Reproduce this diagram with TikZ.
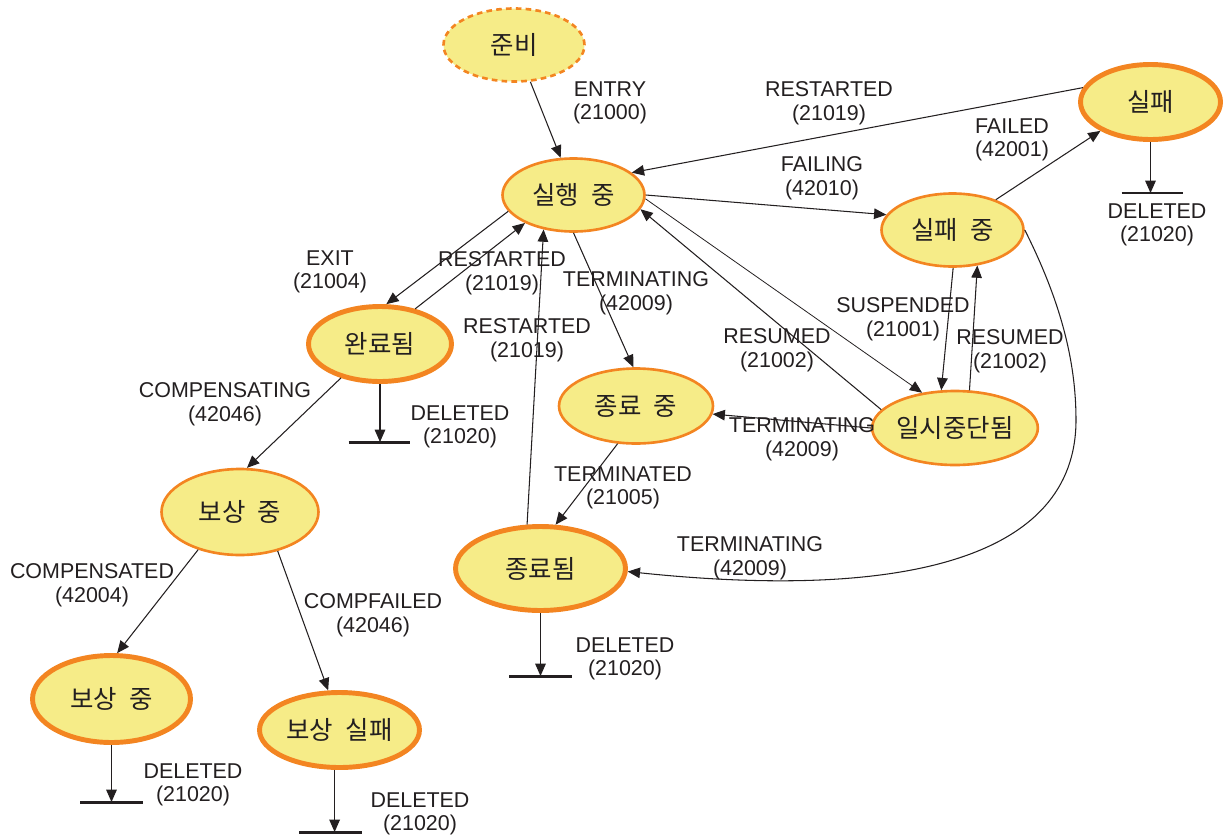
\documentclass[tikz,border=0pt]{standalone}
\usepackage{fontspec}
\setmainfont{Liberation Sans}
\newfontfamily\kr[WordSpace=2.2]{Noto Sans CJK KR}
\usetikzlibrary{shapes.geometric,arrows.meta}
\definecolor{yfill}{RGB}{246,236,136}
\definecolor{orng}{RGB}{243,133,33}
\definecolor{ink}{RGB}{35,31,32}
\tikzset{
 st/.style={ellipse, fill=yfill, draw=orng, inner sep=0pt, text=ink, font=\kr\fontsize{14.5}{16}\selectfont},
 thinb/.style={st, line width=1.5pt},
 thickb/.style={st, line width=2.8pt},
 dashb/.style={st, line width=1.5pt, dash pattern=on 3.2pt off 2.4pt},
 arr/.style={draw=ink, line width=0.6pt, -{Triangle[length=7pt,width=6pt]}},
 thinarr/.style={arr, line width=0.45pt},
 bar/.style={draw=ink, line width=1.7pt},
 lab/.style={align=center, inner sep=0pt, text=ink, font=\fontsize{12.2}{13.4}\selectfont},
}
\begin{document}
\begin{tikzpicture}[x=0.02cm,y=-0.02cm]
\useasboundingbox (0,0) rectangle (1225,839);
% states
\node[dashb, minimum width=2.82cm, minimum height=1.46cm] (ready) at (514,45) {준비};
\node[thinb, minimum width=2.84cm, minimum height=1.46cm] (run) at (573.5,195) {실행 중};
\node[thickb, minimum width=2.80cm, minimum height=1.50cm] (fail) at (1150.5,102) {실패};
\node[thinb, minimum width=2.84cm, minimum height=1.46cm] (failing) at (952.5,230) {실패 중};
\node[thinb, minimum width=2.82cm, minimum height=1.48cm] (susp) at (955,428) {일시중단됨};
\node[thinb, minimum width=3.08cm, minimum height=1.50cm] (termg) at (636,406) {종료 중};
\node[thickb, minimum width=2.86cm, minimum height=1.50cm] (done) at (380,344) {완료됨};
\node[thickb, minimum width=3.40cm, minimum height=1.68cm] (termd) at (540.5,568.5) {종료됨};
\node[thinb, minimum width=3.14cm, minimum height=1.72cm] (comp) at (240,512) {보상 중};
\node[thickb, minimum width=3.16cm, minimum height=1.74cm] (compd) at (111.5,699) {보상 중};
\node[thickb, minimum width=3.20cm, minimum height=1.50cm] (compf) at (339.5,730) {보상 실패};
% bar coordinates
\coordinate (d1) at (1152,193);
\coordinate (d2) at (380,442);
\coordinate (d3) at (541,676);
\coordinate (d4) at (112,802);
\coordinate (d5) at (330,832);
\coordinate (cv) at (1076,420);
% transitions
\draw[arr] (ready.-66.6) -- (run.109.6);
\draw[arr] (fail.168.7) -- (run.21);
\draw[arr] (run.0) -- (failing.167);
\draw[arr] (failing.35.7) -- (fail.-150.8);
\draw[arr] (run.-166.3) -- (done.81.5);
\draw[arr] (done.45.8) -- (run.-150);
\draw[arr] (termd.107.6) -- (run.-131.3);
\draw[arr] (run.-90) -- (termg.94.4);
\draw[thinarr] (run.-3) -- (susp.133.3);
\draw[arr] (susp.166.4) -- (run.-12.2);
\draw[arr] (failing.-89) -- (susp.110);
\draw[arr] (susp.69.3) -- (failing.-55.4);
\draw[arr] (susp.180) -- (termg.-6.7);
\draw[arr] (termg.-116.6) -- (termd.71.6);
\draw[arr] (failing.0) .. controls (1060,300) and (1076,360) .. (cv)
  .. controls (1076,560) and (900,600) .. (termd.-2);
\draw[arr] (done.-139) -- (comp.81);
\draw[arr] (comp.-138) -- (compd.83);
\draw[arr] (comp.-46.5) -- (compf.106);
% deletions
\draw[arr] (fail.south) -- (fail.south |- d1);
\draw[bar] ([xshift=-0.61cm]d1) -- ([xshift=0.61cm]d1);
\draw[arr] (done.south) -- (done.south |- d2);
\draw[bar] ([xshift=-0.63cm]d2) -- ([xshift=0.61cm]d2);
\draw[arr] (termd.south) -- (termd.south |- d3);
\draw[bar] ([xshift=-0.64cm]d3) -- ([xshift=0.62cm]d3);
\draw[arr] (compd.south) -- (compd.south |- d4);
\draw[bar] ([xshift=-0.64cm]d4) -- ([xshift=0.62cm]d4);
\draw[arr] (compf.-97) -- (compf.-97 |- d5);
\draw[bar] ([xshift=-0.62cm]d5) -- ([xshift=0.64cm]d5);
% labels
\node[lab] (l1) at (610,103) {ENTRY\\(21000)};
\node[lab] (l2) at (829,103) {RESTARTED\\(21019)};
\node[lab] (l3) at (822,178) {FAILING\\(42010)};
\node[lab] (l4) at (1012,140) {FAILED\\(42001)};
\node[lab] (l5) at (1157,225) {DELETED\\(21020)};
\node[lab] (l6) at (330,272) {EXIT\\(21004)};
\node[lab] (l7) at (502,273) {RESTARTED\\(21019)};
\node[lab] (l8) at (527,340) {RESTARTED\\(21019)};
\node[lab] (l9) at (636,293) {TERMINATING\\(42009)};
\node[lab] (l10) at (460,427) {DELETED\\(21020)};
\node[lab] (l11) at (903,319) {SUSPENDED\\(21001)};
\node[lab] (l12) at (777,350) {RESUMED\\(21002)};
\node[lab] (l13) at (1010,351) {RESUMED\\(21002)};
\node[lab] (l14) at (802,439) {TERMINATING\\(42009)};
\node[lab] (l15) at (623,488) {TERMINATED\\(21005)};
\node[lab] (l16) at (750,558) {TERMINATING\\(42009)};
\node[lab] (l17) at (625,659) {DELETED\\(21020)};
\node[lab] (l18) at (225,404) {COMPENSATING\\(42046)};
\node[lab] (l19) at (92,585) {COMPENSATED\\(42004)};
\node[lab] (l20) at (373,615) {COMPFAILED\\(42046)};
\node[lab] (l21) at (193,785) {DELETED\\(21020)};
\node[lab] (l22) at (420,814) {DELETED\\(21020)};
\end{tikzpicture}
\end{document}
